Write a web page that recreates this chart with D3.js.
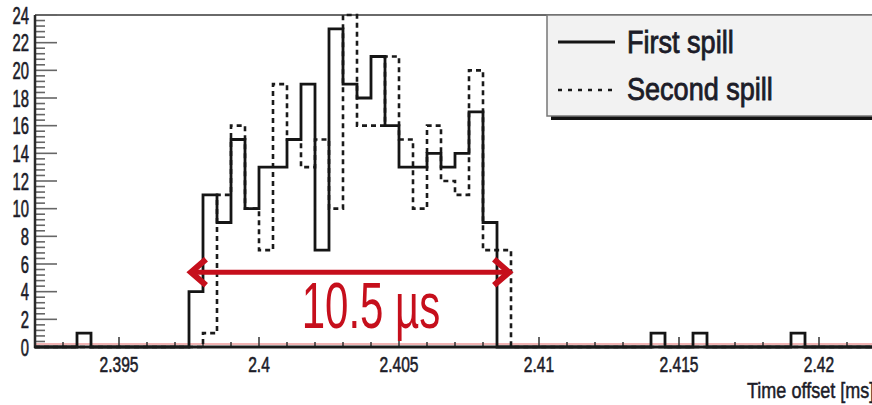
<!DOCTYPE html>
<html>
<head>
<meta charset="utf-8">
<script src="https://cdn.jsdelivr.net/npm/d3@7"></script>
<style>
  body { margin: 0; background: #fff; }
  text { font-family: "Liberation Sans", Arial, sans-serif; fill: #1c1c28; stroke: #1c1c28; stroke-width: 0.5px; }
</style>
</head>
<body>
<svg id="chart" width="872" height="405"></svg>
<script>
// histogram bins, 0.5 us wide, start of each non-empty bin
const binWidth = 0.0005;
const firstBins = [2.3935, 2.3975, 2.398, 2.3985, 2.399, 2.3995, 2.4, 2.4005, 2.401, 2.4015, 2.402,
                   2.4025, 2.403, 2.4035, 2.404, 2.4045, 2.405, 2.4055, 2.406, 2.4065, 2.407, 2.4075,
                   2.408, 2.414, 2.4155, 2.419];
const firstCounts = [1, 4, 11, 9, 15, 10, 13, 13, 15, 19, 7,
                     23, 19, 18, 21, 16, 13, 13, 14, 13, 14, 17,
                     9, 1, 1, 1];
const secondBins = [2.398, 2.3985, 2.399, 2.3995, 2.4, 2.4005, 2.401, 2.4015, 2.402, 2.4025, 2.403,
                    2.4035, 2.404, 2.4045, 2.405, 2.4055, 2.406, 2.4065, 2.407, 2.4075, 2.408, 2.4085];
const secondCounts = [1, 11, 16, 10, 7, 19, 15, 13, 15, 10, 24,
                      16, 16, 21, 15, 10, 16, 12, 11, 20, 7, 7];

const xDomain = [2.392, 2.4225];
const yDomain = [0, 24];
const xTickLabels = [2.395, 2.4, 2.405, 2.41, 2.415, 2.42];
const yTickLabels = [0, 2, 4, 6, 8, 10, 12, 14, 16, 18, 20, 22, 24];
const legendNames = ["First spill", "Second spill"];

// annotation: spill width arrow
const arrowSpan = [2.3975, 2.409];
const arrowLevel = 5.4;
const arrowLabel = "10.5 \u00b5s";

const svg = d3.select("#chart");
const x = d3.scaleLinear().domain(xDomain).range([35, 889]);
const y = d3.scaleLinear().domain(yDomain).range([347, 15]);

// place a stretched/condensed label
function label(g, tx, ty, str, size, sx, sy, anchor) {
    return g.append("text")
        .attr("transform", "translate(" + tx + "," + ty + ") scale(" + sx + "," + sy + ")")
        .attr("text-anchor", anchor)
        .style("font-size", size + "px")
        .text(str);
}

// build full histogram (zeros elsewhere) as step points
function histPoints(bins, counts) {
    const byKey = {};
    bins.forEach((b, i) => { byKey[Math.round(b / binWidth)] = counts[i]; });
    const k0 = Math.round(xDomain[0] / binWidth);
    const k1 = Math.round(xDomain[1] / binWidth);
    const pts = [];
    for (let k = k0; k < k1; k++) pts.push([k * binWidth, byKey[k] || 0]);
    pts.push([k1 * binWidth, 0]);
    return pts;
}

const step = d3.line()
    .x(d => x(d[0]))
    .y(d => y(d[1]))
    .curve(d3.curveStepAfter);

// frame top
svg.append("line")
    .attr("x1", x(xDomain[0])).attr("x2", x(xDomain[1]))
    .attr("y1", y(24)).attr("y2", y(24))
    .attr("stroke", "#6a6a6a").attr("stroke-width", 2);

// faint red zero line
svg.append("line")
    .attr("x1", x(xDomain[0])).attr("x2", x(xDomain[1]))
    .attr("y1", y(0) - 3).attr("y2", y(0) - 3)
    .attr("stroke", "#f2b4b4").attr("stroke-width", 2);

// y ticks
const yMinor = d3.range(0, 24.01, 0.4);
svg.append("g").selectAll("line")
    .data(yMinor)
    .join("line")
    .attr("x1", x(xDomain[0]))
    .attr("x2", d => x(xDomain[0]) + (Math.abs(d / 2 - Math.round(d / 2)) < 1e-6 ? 22 : 10))
    .attr("y1", d => y(d)).attr("y2", d => y(d))
    .attr("stroke", "#666").attr("stroke-width", 1.6);

// x ticks
const xMinor = d3.range(2.393, 2.4226, 0.001);
svg.append("g").selectAll("line")
    .data(xMinor)
    .join("line")
    .attr("x1", d => x(d)).attr("x2", d => x(d))
    .attr("y1", y(0))
    .attr("y2", d => y(0) - (xTickLabels.some(t => Math.abs(t - d) < 1e-7) ? 10 : 5))
    .attr("stroke", "#333").attr("stroke-width", 1.5);

// histograms
svg.append("path")
    .attr("d", step(histPoints(secondBins, secondCounts)))
    .attr("fill", "none").attr("stroke", "#1a1a1a")
    .attr("stroke-width", 2.6).attr("stroke-dasharray", "5,4");

svg.append("path")
    .attr("d", step(histPoints(firstBins, firstCounts)))
    .attr("fill", "none").attr("stroke", "#151515")
    .attr("stroke-width", 2.8);

// axes lines
svg.append("line")
    .attr("x1", x(xDomain[0])).attr("x2", x(xDomain[0]))
    .attr("y1", y(24)).attr("y2", y(0) + 1)
    .attr("stroke", "#2a2a2a").attr("stroke-width", 2.5);
svg.append("line")
    .attr("x1", x(xDomain[0]) - 1).attr("x2", x(xDomain[1]))
    .attr("y1", y(0)).attr("y2", y(0))
    .attr("stroke", "#1a1a1a").attr("stroke-width", 3);

// tick labels
const yLab = svg.append("g");
yTickLabels.forEach(v => label(yLab, 29, y(v) + 8.5, v, 18, 0.82, 1.35, "end"));
const xLab = svg.append("g");
xTickLabels.forEach(v => label(xLab, x(v), 372, v, 19, 0.82, 1.15, "middle"));

// axis title (runs off the right edge, as in the source)
label(svg, 747, 398, "Time offset [ms]", 22, 0.82, 1.0, "start");

// arrow annotation
const red = "#c60f1c";
const ay = y(arrowLevel);
const ax0 = x(arrowSpan[0]), ax1 = x(arrowSpan[1]);
svg.append("line")
    .attr("x1", ax0 + 3).attr("x2", ax1 - 3)
    .attr("y1", ay).attr("y2", ay)
    .attr("stroke", red).attr("stroke-width", 5);
svg.append("path")
    .attr("d", "M" + (ax0 + 17) + "," + (ay - 13) + " L" + (ax0 + 2) + "," + ay + " L" + (ax0 + 17) + "," + (ay + 13))
    .attr("fill", "none").attr("stroke", red).attr("stroke-width", 6)
    .attr("stroke-linejoin", "miter");
svg.append("path")
    .attr("d", "M" + (ax1 - 17) + "," + (ay - 13) + " L" + (ax1 - 2) + "," + ay + " L" + (ax1 - 17) + "," + (ay + 13))
    .attr("fill", "none").attr("stroke", red).attr("stroke-width", 6)
    .attr("stroke-linejoin", "miter");
label(svg, x(2.404), y(0) - 19, arrowLabel, 60, 0.7, 1.09, "middle")
    .style("fill", red).style("stroke", "none");

// legend
const leg = svg.append("g");
leg.append("rect")
    .attr("x", 551).attr("y", 19).attr("width", 340).attr("height", 101)
    .attr("fill", "#111");
leg.append("rect")
    .attr("x", 547).attr("y", 15).attr("width", 340).attr("height", 101)
    .attr("fill", "#f2f2f2").attr("stroke", "#777").attr("stroke-width", 1.5);
leg.append("line")
    .attr("x1", 558).attr("x2", 615).attr("y1", 42).attr("y2", 42)
    .attr("stroke", "#151515").attr("stroke-width", 2.8);
leg.append("line")
    .attr("x1", 558).attr("x2", 612).attr("y1", 90).attr("y2", 90)
    .attr("stroke", "#1a1a1a").attr("stroke-width", 2.6).attr("stroke-dasharray", "4,6");
label(leg, 627, 53, legendNames[0], 33, 0.82, 0.95, "start").style("stroke-width", "0.9px");
label(leg, 627, 100, legendNames[1], 33, 0.82, 0.95, "start").style("stroke-width", "0.9px");
</script>
</body>
</html>
